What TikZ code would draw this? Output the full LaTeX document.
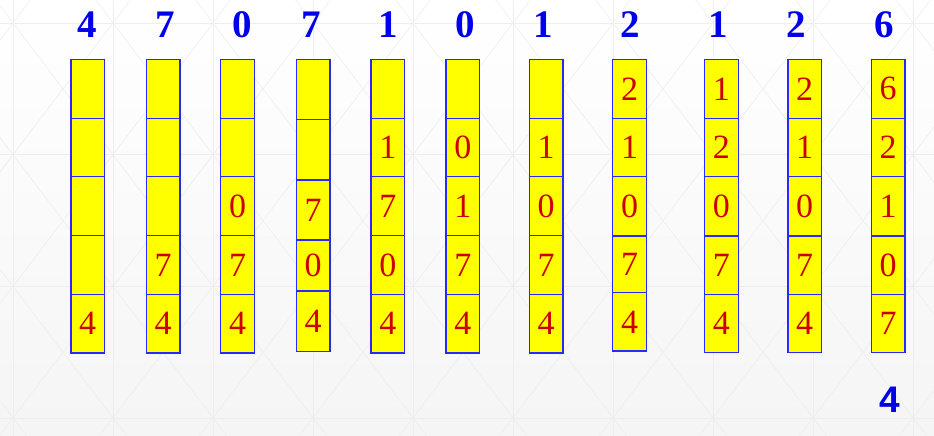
\documentclass[tikz,border=0pt]{standalone}
\usepackage{fontspec}
\setmainfont{Liberation Serif}
\newfontfamily\arialfont{Liberation Sans}
\definecolor{cellred}{RGB}{204,0,0}
\definecolor{labblue}{RGB}{0,0,235}
\definecolor{edgeblue}{RGB}{40,40,255}
\definecolor{cellyellow}{RGB}{255,255,0}
\definecolor{bgline}{RGB}{238,238,238}
\tikzset{
  cell/.style={draw=edgeblue, fill=cellyellow, line width=1.3pt, inner sep=0pt,
    minimum width=33.7pt, text=cellred, font=\fontsize{34}{34}\selectfont},
  toplab/.style={text=labblue, inner sep=0pt, font=\fontsize{39}{39}\selectfont\bfseries},
  botlab/.style={text=labblue, inner sep=0pt, font=\fontsize{37}{37}\selectfont\arialfont\bfseries},
  bggrid/.style={draw=bgline, line width=0.6pt}
}
\begin{document}
\begin{tikzpicture}[x=1pt,y=-1pt]
\useasboundingbox (0,0) rectangle (934,436);
% background
\shade[top color=white, bottom color=black!4] (0,0) rectangle (934,436);
\begin{scope}
\clip (0,0) rectangle (934,436);
\foreach \gx in {-87,13,113,...,1013} {
  \draw[bggrid] (\gx,-120) -- (\gx,560);
  \foreach \gy in {-108.7,23,154.7,286.3,418,549.7} {
    \draw[bggrid] (\gx,\gy) -- (\gx+100,\gy+131.7);
    \draw[bggrid] (\gx,\gy+131.7) -- (\gx+100,\gy);
  }
}
\foreach \gy in {23,154.7,286.3,418}
  \draw[bggrid] (-10,\gy) -- (950,\gy);
\end{scope}
% stacks
\foreach \n/\x/\ya/\yb/\yc/\yd/\ye/\yf/\da/\db/\dc/\dd/\de in {
  1/87.7/59.3/118.3/176.7/235.5/294.3/353/{}/{}/{}/{}/4,
  2/163/59.3/118.3/176.7/235.5/294.3/353/{}/{}/{}/7/4,
  3/237.5/59.3/118.3/176.7/235.5/294.3/353/{}/{}/0/7/4,
  4/313/59.3/119.3/180/240/291/351.3/{}/{}/7/0/4,
  5/387.8/59.3/118.3/176.7/235.5/294.3/353/{}/1/7/0/4,
  6/462.8/59.3/118.3/176.7/235.5/294.3/353/{}/0/1/7/4,
  7/546.1/59.3/118.3/176.7/235.5/294.3/353/{}/1/0/7/4,
  8/629.5/59.3/118.3/176.7/236/292.7/351/2/1/0/7/4,
  9/721.3/59.3/118.3/176.7/236/294.3/352.7/1/2/0/7/4,
  10/804.7/59.3/118.3/176.7/236/294.3/352.7/2/1/0/7/4,
  11/888/59.3/118.3/176.7/236/294.3/352.7/6/2/1/0/7}
{
  \node[cell, minimum height={\yb-\ya}] (s\n a) at (\x,{(\ya+\yb)/2}) {\da};
  \node[cell, minimum height={\yc-\yb}] (s\n b) at (\x,{(\yb+\yc)/2}) {\db};
  \node[cell, minimum height={\yd-\yc}] (s\n c) at (\x,{(\yc+\yd)/2}) {\dc};
  \node[cell, minimum height={\ye-\yd}] (s\n d) at (\x,{(\yd+\ye)/2}) {\dd};
  \node[cell, minimum height={\yf-\ye}] (s\n e) at (\x,{(\ye+\yf)/2}) {\de};
}
% input sequence
\foreach \n/\x/\d in {1/87/4,2/165/7,3/242/0,4/311/7,5/388/1,6/465/0,7/543/1,8/630/2,9/718/1,10/796/2,11/884/6}
  \node[toplab] (t\n) at (\x,25) {\d};
\node[botlab] (out) at (889.5,399.5) {4};
\end{tikzpicture}
\end{document}
